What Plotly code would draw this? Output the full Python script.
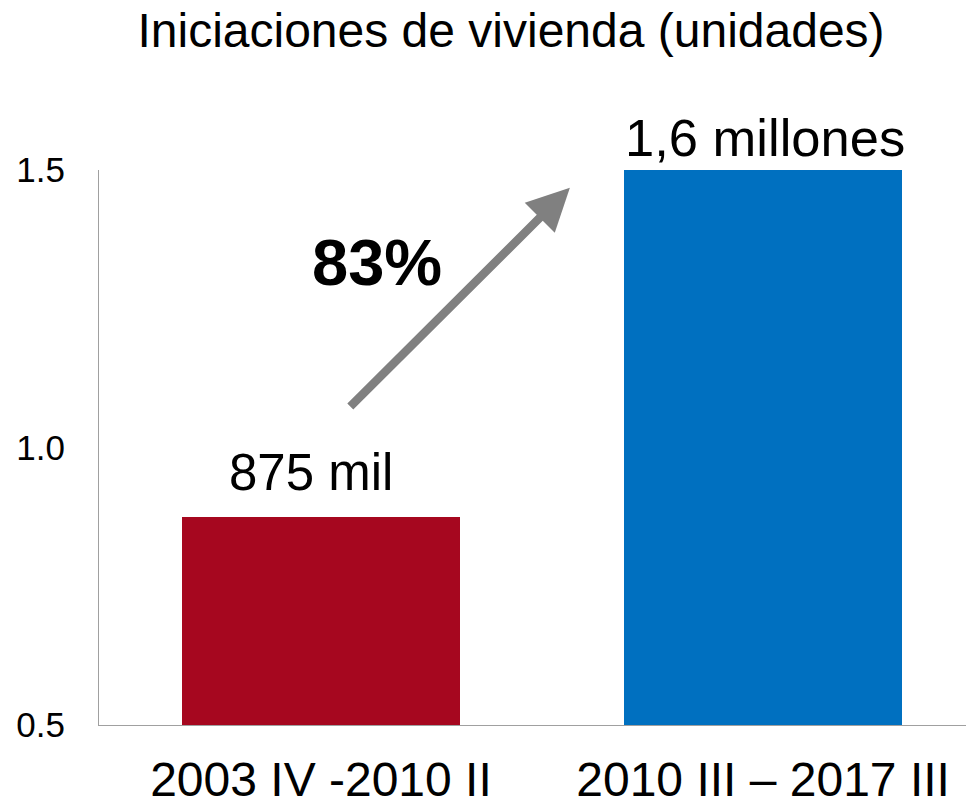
import plotly.graph_objects as go

categories = ["2003 IV -2010 II", "2010 III – 2017 III"]
values = [0.875, 1.6]
value_labels = ["875 mil", "1,6 millones"]
bar_colors = ["#A6071F", "#0070C0"]
y_ticks = [0.5, 1.0, 1.5]
y_tick_labels = ["0.5", "1.0", "1.5"]
growth_label = "83%"
title_text = "Iniciaciones de vivienda (unidades)"

# arrow (tail -> head) in data coordinates
arrow_tail = (0.063, 1.071)
arrow_head = (0.563, 1.468)

FONT = "Liberation Sans, Arial, sans-serif"

# page body has an 8px margin, so the figure is sized to fill the rest of the window
W, H = 966, 796

fig = go.Figure()
fig.add_trace(go.Bar(
    x=[0, 1], y=values,
    marker=dict(color=bar_colors, line=dict(width=0)),
    width=0.627, showlegend=False, hoverinfo="skip",
))

annotations = []
label_x = [-0.022, 1.004]
label_shift = [14, 1]
label_size = [51, 52.5]
for i, (lx, v, t) in enumerate(zip(label_x, values, value_labels)):
    annotations.append(dict(
        x=lx, y=min(v, 1.5), xref="x", yref="y", text=t, showarrow=False,
        yanchor="bottom", xanchor="center", yshift=label_shift[i],
        font=dict(family=FONT, size=label_size[i], color="#000000"),
    ))

annotations.append(dict(
    x=arrow_head[0], y=arrow_head[1], ax=arrow_tail[0], ay=arrow_tail[1],
    xref="x", yref="y", axref="x", ayref="y", text="", showarrow=True,
    arrowhead=2, arrowsize=1, arrowwidth=8.5, arrowcolor="#808080", standoff=0,
))
annotations.append(dict(
    x=0.127, y=1.333, xref="x", yref="y", text="<b>%s</b>" % growth_label,
    showarrow=False, font=dict(family=FONT, size=65, color="#000000"),
))

fig.update_layout(
    width=W, height=H,
    margin=dict(l=91, r=0, t=162, b=79, autoexpand=False),
    paper_bgcolor="white", plot_bgcolor="white",
    annotations=annotations,
    bargap=0,
    font=dict(family=FONT, color="#000000"),
    title=dict(
        text=title_text, x=503 / W, xref="container", xanchor="center",
        y=1 - 22 / H, yref="container", yanchor="middle",
        font=dict(family=FONT, size=48, color="#000000"),
    ),
)
fig.update_xaxes(
    range=[-0.502, 1.477], tickvals=[0, 1], ticktext=categories,
    showgrid=False, zeroline=False, showline=True, linecolor="#A0A0A0", linewidth=1,
    ticks="", tickfont=dict(family=FONT, size=48, color="#000000"),
    ticklabelstandoff=12, automargin=False,
)
fig.update_yaxes(
    range=[0.5, 1.5], tickvals=y_ticks, ticktext=y_tick_labels,
    showgrid=False, zeroline=False, showline=True, linecolor="#A0A0A0", linewidth=1,
    ticks="", tickfont=dict(family=FONT, size=35, color="#000000"),
    ticklabelstandoff=26, automargin=False,
)

fig.write_html("out.html")
